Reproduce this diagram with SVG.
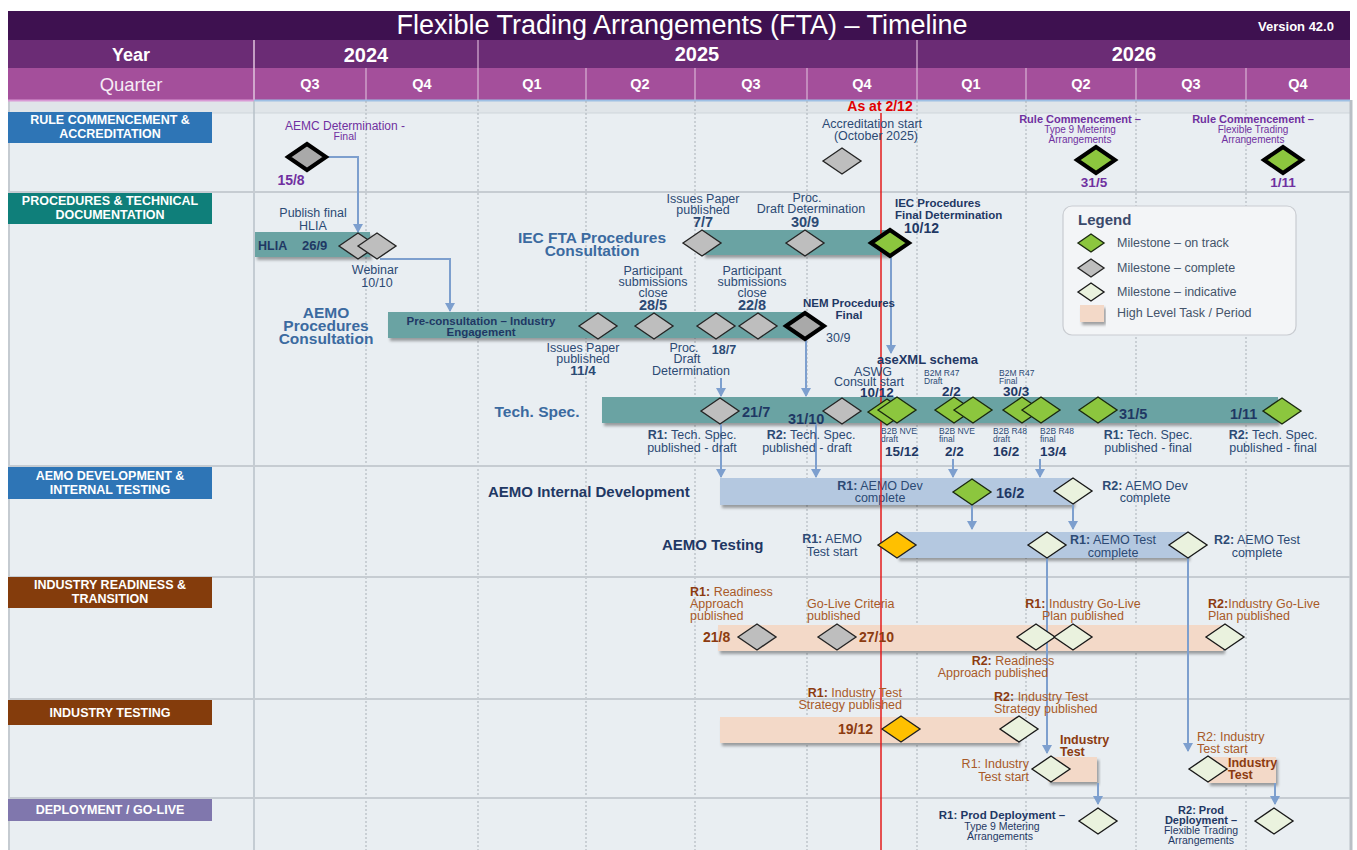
<svg xmlns="http://www.w3.org/2000/svg" width="1357" height="850" viewBox="0 0 1357 850">
<defs>
<style>
text{font-family:"Liberation Sans",Arial,sans-serif}
.hd{fill:#fff}
.lane{fill:#fff;font-weight:bold;font-size:12.5px;text-anchor:middle}
.l{fill:#2c4a74;font-size:12.5px}
.c{text-anchor:middle}
.e{text-anchor:end}
.b{font-weight:bold}
.d{fill:#1f3864;font-weight:bold;font-size:14.5px}
.big{fill:#3b6aa0;font-weight:bold;font-size:15.5px}
.pu{fill:#7030a0}
.br{fill:#a85a28;font-size:12.5px}
.brb{fill:#8c3b10;font-weight:bold}
.nv{fill:#1f3864}
.sm{font-size:8.5px}
.teal{fill:#6aa3a3}
.lb{fill:#b4c8e0}
.pe{fill:#f3d9c8}
.g{fill:#bebebe;stroke:#262626;stroke-width:1.4}
.gk{fill:#a9a9a9;stroke:#000;stroke-width:4}
.gr{fill:#8cc63e;stroke:#1b2a10;stroke-width:1.4}
.grk{fill:#8cc63e;stroke:#000;stroke-width:4}
.in{fill:#eaf2de;stroke:#1a1a1a;stroke-width:1.4}
.or{fill:#ffc000;stroke:#222;stroke-width:1.4}
.ar{fill:none;stroke:#7d9fce;stroke-width:2;marker-end:url(#ah)}
.vg{stroke:#a9b0b7;stroke-width:1;stroke-dasharray:2 2}
.hs{stroke:#c6ccd2;stroke-width:2}
.hv{stroke:#d9b4d6;stroke-width:1.2}
</style>
<path id="dm" d="M-19,0L0,-13L19,0L0,13Z"/>
<path id="ds" d="M-13,0L0,-9L13,0L0,9Z"/>
<marker id="ah" markerWidth="9" markerHeight="10" refX="8" refY="5" orient="auto" markerUnits="userSpaceOnUse"><path d="M0,0L9,5L0,10Z" fill="#7d9fce"/></marker>
<filter id="sh" x="-5%" y="-30%" width="112%" height="180%"><feDropShadow dx="2" dy="3" stdDeviation="1.5" flood-color="#000" flood-opacity="0.35"/></filter>
</defs>

<g id="background">
<rect x="0" y="0" width="1357" height="850" fill="#fff"/>
<rect x="8" y="100" width="1342" height="750" fill="#e9eef2"/>
<rect x="8" y="101" width="1342" height="12" fill="#e0e5e9"/>
<line x1="8" y1="113" x2="1350" y2="113" stroke="#cfd5da" stroke-width="1"/>
<line x1="1351" y1="100" x2="1351" y2="850" stroke="#b9bfc5" stroke-width="3"/>
<line x1="9" y1="100" x2="9" y2="850" stroke="#c5cbd1" stroke-width="2"/>
<rect x="8" y="11" width="1342" height="29" fill="#3e1150"/>
<rect x="8" y="40" width="1342" height="28" fill="#6b2c75"/>
<rect x="8" y="68" width="1342" height="32" fill="#a44f9b"/>
<line x1="254" y1="40" x2="254" y2="100" stroke="#e0c4de" stroke-width="1.5"/>
<line x1="478" y1="40" x2="478" y2="68" stroke="#d9b4d6" stroke-width="1.2"/>
<line x1="917" y1="40" x2="917" y2="68" stroke="#d9b4d6" stroke-width="1.2"/>
<line class="hv" x1="366" y1="68" x2="366" y2="100"/>
<line class="hv" x1="478" y1="68" x2="478" y2="100"/>
<line class="hv" x1="586" y1="68" x2="586" y2="100"/>
<line class="hv" x1="695" y1="68" x2="695" y2="100"/>
<line class="hv" x1="807" y1="68" x2="807" y2="100"/>
<line class="hv" x1="917" y1="68" x2="917" y2="100"/>
<line class="hv" x1="1026" y1="68" x2="1026" y2="100"/>
<line class="hv" x1="1136" y1="68" x2="1136" y2="100"/>
<line class="hv" x1="1246" y1="68" x2="1246" y2="100"/>
<line x1="8" y1="100.5" x2="254" y2="100.5" stroke="#d99ad5" stroke-width="2"/>
<line x1="254" y1="100.5" x2="1350" y2="100.5" stroke="#9ec0e4" stroke-width="2"/>
<text class="hd" x="682" y="34" text-anchor="middle" font-size="27">Flexible Trading Arrangements (FTA) – Timeline</text>
<text class="hd b" x="1296" y="31" text-anchor="middle" font-size="13">Version 42.0</text>
<text class="hd b" x="131" y="61" text-anchor="middle" font-size="18">Year</text>
<text class="hd b" x="366" y="62" text-anchor="middle" font-size="20">2024</text>
<text class="hd b" x="697" y="61" text-anchor="middle" font-size="20">2025</text>
<text class="hd b" x="1134" y="61" text-anchor="middle" font-size="20">2026</text>
<text x="131" y="91" text-anchor="middle" font-size="18.5" fill="#f6ebf5">Quarter</text>
<g class="hd b" font-size="14.5" text-anchor="middle">
<text x="310" y="89">Q3</text><text x="422" y="89">Q4</text><text x="532" y="89">Q1</text><text x="640" y="89">Q2</text><text x="751" y="89">Q3</text><text x="862" y="89">Q4</text><text x="971" y="89">Q1</text><text x="1081" y="89">Q2</text><text x="1191" y="89">Q3</text><text x="1298" y="89">Q4</text>
</g>
<line x1="254" y1="101" x2="254" y2="850" stroke="#b7c0c9" stroke-width="1.5"/>
<line class="vg" x1="366" y1="101" x2="366" y2="850"/>
<line class="vg" x1="478" y1="101" x2="478" y2="850"/>
<line class="vg" x1="586" y1="101" x2="586" y2="850"/>
<line class="vg" x1="695" y1="101" x2="695" y2="850"/>
<line class="vg" x1="807" y1="101" x2="807" y2="850"/>
<line class="vg" x1="917" y1="101" x2="917" y2="850"/>
<line class="vg" x1="1026" y1="101" x2="1026" y2="850"/>
<line class="vg" x1="1136" y1="101" x2="1136" y2="850"/>
<line class="vg" x1="1246" y1="101" x2="1246" y2="850"/>
<line class="hs" x1="8" y1="192" x2="1350" y2="192"/>
<line class="hs" x1="8" y1="466" x2="1350" y2="466"/>
<line class="hs" x1="8" y1="577" x2="1350" y2="577"/>
<line class="hs" x1="8" y1="699" x2="1350" y2="699"/>
<line class="hs" x1="8" y1="798" x2="1350" y2="798"/>
</g>

<g id="lanes">
<g id="lane-rule"><rect x="8" y="112" width="204" height="31" fill="#2e75b6"/><text class="lane" x="110" y="124">RULE COMMENCEMENT &amp;</text><text class="lane" x="110" y="138">ACCREDITATION</text></g>
<g id="lane-proc"><rect x="8" y="193" width="204" height="31" fill="#0f7f7a"/><text class="lane" x="110" y="205">PROCEDURES &amp; TECHNICAL</text><text class="lane" x="110" y="219">DOCUMENTATION</text></g>
<g id="lane-dev"><rect x="8" y="467" width="204" height="32" fill="#2e75b6"/><text class="lane" x="110" y="480">AEMO DEVELOPMENT &amp;</text><text class="lane" x="110" y="494">INTERNAL TESTING</text></g>
<g id="lane-ready"><rect x="8" y="577" width="204" height="31" fill="#843c0c"/><text class="lane" x="110" y="589">INDUSTRY READINESS &amp;</text><text class="lane" x="110" y="603">TRANSITION</text></g>
<g id="lane-test"><rect x="8" y="700" width="204" height="25" fill="#843c0c"/><text class="lane" x="110" y="717">INDUSTRY TESTING</text></g>
<g id="lane-deploy"><rect x="8" y="799" width="204" height="22" fill="#8077ad"/><text class="lane" x="110" y="814">DEPLOYMENT / GO-LIVE</text></g>
</g>

<g id="bars">
<g id="bar-hlia"><rect class="teal" x="255" y="232" width="115" height="25" filter="url(#sh)"/><text class="nv b" x="258" y="250" font-size="12.5">HLIA</text><text class="nv b" x="302" y="250" font-size="13">26/9</text></g>
<g id="bar-preconsult"><text class="big c" font-size="16"><tspan x="326" y="318">AEMO</tspan><tspan x="326" y="331">Procedures</tspan><tspan x="326" y="344">Consultation</tspan></text>
<rect class="teal" x="388" y="312" width="417" height="26" filter="url(#sh)"/><text class="nv b c" font-size="11.5"><tspan x="481" y="325">Pre-consultation – Industry</tspan><tspan x="481" y="336">Engagement</tspan></text></g>
<g id="bar-iec"><text class="big c" font-size="15"><tspan x="592" y="243">IEC FTA Procedures</tspan><tspan x="592" y="256">Consultation</tspan></text><rect class="teal" x="703" y="230" width="186" height="25" filter="url(#sh)"/></g>
<g id="bar-techspec"><text class="big c" x="537" y="417">Tech. Spec.</text><rect class="teal" x="602" y="397" width="676" height="26" filter="url(#sh)"/></g>
<g id="bar-dev"><text class="nv b" x="488" y="497" font-size="15">AEMO Internal Development</text><rect class="lb" x="720" y="478" width="353" height="27" filter="url(#sh)"/>
<text class="l c"><tspan x="880" y="490"><tspan class="b">R1:</tspan> AEMO Dev</tspan><tspan x="880" y="502">complete</tspan></text></g>
<g id="bar-aemotest"><text class="nv b" x="662" y="550" font-size="15">AEMO Testing</text><rect class="lb" x="897" y="532" width="291" height="26" filter="url(#sh)"/></g>
<g id="bar-readiness"><rect class="pe" x="718" y="625" width="505" height="26" filter="url(#sh)"/></g>
<g id="bar-indtest"><rect class="pe" x="720" y="717" width="298" height="26" filter="url(#sh)"/></g>
<g id="bar-indtest-r1"><rect class="pe" x="1048" y="757" width="49" height="25" filter="url(#sh)"/><text class="brb" font-size="12.5"><tspan x="1060" y="744">Industry</tspan><tspan x="1060" y="756">Test</tspan></text></g>
<g id="bar-indtest-r2"><rect class="pe" x="1208" y="757" width="68" height="26" filter="url(#sh)"/><text class="brb" font-size="12.5"><tspan x="1228" y="767">Industry</tspan><tspan x="1228" y="779">Test</tspan></text></g>
</g>

<g id="as-at">
<line x1="881" y1="113" x2="881" y2="850" stroke="#e31b1b" stroke-width="1.5"/>
<text x="880" y="111" text-anchor="middle" font-size="14" font-weight="bold" fill="#e00000">As at 2/12</text>
</g>

<g id="connectors">
<path class="ar" d="M328,157H358V232"/>
<path class="ar" d="M380,259H450V311"/>
<path class="ar" d="M891,257V353"/>
<path class="ar" d="M806,340V396"/>
<path class="ar" d="M721,378V396"/>
<path class="ar" d="M721,424V477"/>
<path class="ar" d="M816,424V477"/>
<path class="ar" d="M953,459V477"/>
<path class="ar" d="M1040,459V477"/>
<path class="ar" d="M972,505V529"/>
<path class="ar" d="M1073,505V529"/>
<path class="ar" d="M1047,558V753"/>
<path class="ar" d="M1188,558V751"/>
<path class="ar" d="M1098,783V804"/>
<path class="ar" d="M1275,783V804"/>
</g>

<g id="milestones">
<g id="m-aemc"><text class="pu c"><tspan x="345" y="130" font-size="12">AEMC Determination -</tspan><tspan x="345" y="140" font-size="10.5">Final</tspan></text><use href="#dm" class="gk" x="307" y="157"/><text class="pu b c" x="291" y="185" font-size="14">15/8</text></g>
<g id="m-accr"><text class="l c" font-size="12"><tspan x="872" y="128">Accreditation start</tspan><tspan x="876" y="140">(October 2025)</tspan></text><use href="#dm" class="g" x="842" y="161"/></g>
<g id="m-rc1"><text class="pu c" font-size="10"><tspan x="1080" y="123" class="b" font-size="11">Rule Commencement –</tspan><tspan x="1080" y="133">Type 9 Metering</tspan><tspan x="1080" y="143">Arrangements</tspan></text><use href="#dm" class="grk" x="1096" y="160"/><text class="pu b c" x="1094" y="187" font-size="13.5">31/5</text></g>
<g id="m-rc2"><text class="pu c" font-size="10"><tspan x="1253" y="123" class="b" font-size="11">Rule Commencement –</tspan><tspan x="1253" y="133">Flexible Trading</tspan><tspan x="1253" y="143">Arrangements</tspan></text><use href="#dm" class="grk" x="1283" y="160"/><text class="pu b c" x="1283" y="187" font-size="13.5">1/11</text></g>

<g id="m-hlia"><text class="l c" font-size="12.5"><tspan x="313" y="217">Publish final</tspan><tspan x="313" y="230">HLIA</tspan></text><use href="#dm" class="g" x="358" y="246"/></g>
<g id="m-webinar"><use href="#dm" class="g" x="377" y="246"/><text class="l c" font-size="12.5"><tspan x="375" y="274">Webinar</tspan><tspan x="377" y="287">10/10</tspan></text></g>

<g id="m-ip-1104"><use href="#dm" class="g" x="598" y="326"/><text class="l c" font-size="11.5"><tspan x="583" y="352">Issues Paper</tspan><tspan x="583" y="363">published</tspan><tspan x="583" y="375" class="b" font-size="13.5">11/4</tspan></text></g>
<g id="m-psc-2805"><text class="l c" font-size="11.5"><tspan x="653" y="275">Participant</tspan><tspan x="653" y="286">submissions</tspan><tspan x="653" y="297">close</tspan><tspan x="653" y="310" class="b" font-size="14.5">28/5</tspan></text><use href="#dm" class="g" x="654" y="326"/></g>
<g id="m-pdd-1807"><use href="#dm" class="g" x="716" y="326"/><text class="l c" font-size="11.5"><tspan x="684" y="352">Proc.</tspan><tspan x="687" y="363">Draft</tspan><tspan x="691" y="375">Determination</tspan></text><text class="l b c" x="724" y="354" font-size="13.5">18/7</text></g>
<g id="m-psc-2208"><text class="l c" font-size="11.5"><tspan x="752" y="275">Participant</tspan><tspan x="752" y="286">submissions</tspan><tspan x="752" y="297">close</tspan><tspan x="752" y="310" class="b" font-size="14.5">22/8</tspan></text><use href="#dm" class="g" x="758" y="326"/></g>
<g id="m-nem"><text class="nv b c" font-size="11.5"><tspan x="849" y="307">NEM Procedures</tspan><tspan x="849" y="319">Final</tspan></text><use href="#dm" class="gk" x="805" y="326"/><text class="l" x="826" y="342" font-size="13.5">30/9</text></g>

<g id="m-ip-0707"><text class="l c" font-size="11.5"><tspan x="703" y="203">Issues Paper</tspan><tspan x="703" y="214">published</tspan><tspan x="703" y="227" class="b" font-size="14.5">7/7</tspan></text><use href="#dm" class="g" x="702" y="243"/></g>
<g id="m-pdd-3009"><text class="l c" font-size="11.5"><tspan x="807" y="202">Proc.</tspan><tspan x="811" y="213">Draft Determination</tspan><tspan x="805" y="227" class="b" font-size="14.5">30/9</tspan></text><use href="#dm" class="g" x="805" y="243"/></g>
<g id="m-iec-final"><text class="nv b" font-size="11.5"><tspan x="895" y="207">IEC Procedures</tspan><tspan x="895" y="219">Final Determination</tspan></text><text class="nv b" x="904" y="233" font-size="14">10/12</text><use href="#dm" class="grk" x="890" y="243"/></g>

<g id="m-ts-2107"><use href="#dm" class="g" x="720" y="411"/><text class="d" x="742" y="417">21/7</text><text class="l c" font-size="12.5"><tspan x="692" y="439"><tspan class="b">R1:</tspan> Tech. Spec.</tspan><tspan x="692" y="452">published - draft</tspan></text></g>
<g id="m-ts-3110"><use href="#dm" class="g" x="842" y="411"/><text class="d" x="788" y="424">31/10</text><text class="l c" font-size="12.5"><tspan x="811" y="439"><tspan class="b">R2:</tspan> Tech. Spec.</tspan><tspan x="807" y="452">published - draft</tspan></text></g>
<g id="m-asexml"><text class="nv b" x="877" y="364" font-size="13">aseXML schema</text><text class="l c" font-size="11"><tspan x="873" y="376">ASWG</tspan><tspan x="869" y="386">Consult start</tspan></text><text class="nv b c" x="877" y="397" font-size="13.5">10/12</text>
<use href="#dm" class="gr" x="887" y="412"/><use href="#dm" class="gr" x="897" y="410"/>
<text class="l sm"><tspan x="881" y="434">B2B NVE</tspan><tspan x="881" y="442">draft</tspan></text><text class="nv b" x="885" y="456" font-size="13.5">15/12</text></g>
<g id="m-b2m-draft"><text class="l sm"><tspan x="924" y="376">B2M R47</tspan><tspan x="924" y="384">Draft</tspan></text><text class="nv b" x="942" y="396" font-size="13.5">2/2</text>
<use href="#dm" class="gr" x="954" y="410"/><use href="#dm" class="gr" x="973" y="410"/>
<text class="l sm"><tspan x="939" y="434">B2B NVE</tspan><tspan x="939" y="442">final</tspan></text><text class="nv b" x="945" y="456" font-size="13.5">2/2</text></g>
<g id="m-b2m-final"><text class="l sm"><tspan x="999" y="376">B2M R47</tspan><tspan x="999" y="384">Final</tspan></text><text class="nv b" x="1003" y="396" font-size="13.5">30/3</text>
<use href="#dm" class="gr" x="1022" y="410"/><use href="#dm" class="gr" x="1041" y="410"/>
<text class="l sm"><tspan x="993" y="434">B2B R48</tspan><tspan x="993" y="442">draft</tspan></text><text class="nv b" x="993" y="456" font-size="13.5">16/2</text>
<text class="l sm"><tspan x="1040" y="434">B2B R48</tspan><tspan x="1040" y="442">final</tspan></text><text class="nv b" x="1040" y="456" font-size="13.5">13/4</text></g>
<g id="m-ts-3105"><use href="#dm" class="gr" x="1098" y="410"/><text class="d" x="1119" y="419">31/5</text><text class="l c" font-size="12.5"><tspan x="1148" y="439"><tspan class="b">R1:</tspan> Tech. Spec.</tspan><tspan x="1148" y="452">published - final</tspan></text></g>
<g id="m-ts-0111"><text class="d" x="1230" y="419">1/11</text><use href="#dm" class="gr" x="1282" y="411"/><text class="l c" font-size="12.5"><tspan x="1273" y="439"><tspan class="b">R2:</tspan> Tech. Spec.</tspan><tspan x="1273" y="452">published - final</tspan></text></g>

<g id="m-dev-r1"><use href="#dm" class="gr" x="972" y="492"/><text class="d" x="996" y="498">16/2</text></g>
<g id="m-dev-r2"><use href="#dm" class="in" x="1073" y="491"/><text class="l c"><tspan x="1145" y="490"><tspan class="b">R2:</tspan> AEMO Dev</tspan><tspan x="1145" y="502">complete</tspan></text></g>
<g id="m-test-start"><text class="l c"><tspan x="832" y="543"><tspan class="b">R1:</tspan> AEMO</tspan><tspan x="832" y="556">Test start</tspan></text><use href="#dm" class="or" x="897" y="545"/></g>
<g id="m-test-r1"><use href="#dm" class="in" x="1047" y="545"/><text class="l c"><tspan x="1113" y="544"><tspan class="b">R1:</tspan> AEMO Test</tspan><tspan x="1113" y="557">complete</tspan></text></g>
<g id="m-test-r2"><use href="#dm" class="in" x="1188" y="545"/><text class="l c"><tspan x="1257" y="544"><tspan class="b">R2:</tspan> AEMO Test</tspan><tspan x="1257" y="557">complete</tspan></text></g>

<g id="m-ready-r1"><text class="br"><tspan x="690" y="596"><tspan class="brb">R1:</tspan> Readiness</tspan><tspan x="690" y="608">Approach</tspan><tspan x="690" y="620">published</tspan></text><text class="brb" x="703" y="642" font-size="14">21/8</text><use href="#dm" class="g" x="757" y="637"/></g>
<g id="m-golive-crit"><text class="br"><tspan x="807" y="608">Go-Live Criteria</tspan><tspan x="807" y="620">published</tspan></text><use href="#dm" class="g" x="837" y="637"/><text class="brb" x="859" y="642" font-size="14">27/10</text></g>
<g id="m-golive-r1"><text class="br c"><tspan x="1083" y="608"><tspan class="brb">R1:</tspan> Industry Go-Live</tspan><tspan x="1083" y="620">Plan published</tspan></text><use href="#dm" class="in" x="1036" y="637"/></g>
<g id="m-ready-r2"><use href="#dm" class="in" x="1073" y="637"/><text class="br c"><tspan x="1013" y="665"><tspan class="brb">R2:</tspan> Readiness</tspan><tspan x="993" y="677">Approach published</tspan></text></g>
<g id="m-golive-r2"><text class="br"><tspan x="1208" y="608"><tspan class="brb">R2:</tspan>Industry Go-Live</tspan><tspan x="1208" y="620">Plan published</tspan></text><use href="#dm" class="in" x="1225" y="637"/></g>

<g id="m-its-r1"><text class="br e"><tspan x="902" y="697"><tspan class="brb">R1:</tspan> Industry Test</tspan><tspan x="902" y="709">Strategy published</tspan></text><text class="brb" x="838" y="734" font-size="14">19/12</text><use href="#dm" class="or" x="901" y="729"/></g>
<g id="m-its-r2"><text class="br"><tspan x="994" y="701"><tspan class="brb">R2:</tspan> Industry Test</tspan><tspan x="994" y="713">Strategy published</tspan></text><use href="#dm" class="in" x="1019" y="729"/></g>
<g id="m-it-start-r1"><text class="br e"><tspan x="1029" y="768">R1: Industry</tspan><tspan x="1029" y="781">Test start</tspan></text><use href="#dm" class="in" x="1051" y="769"/></g>
<g id="m-it-start-r2"><text class="br"><tspan x="1197" y="741">R2: Industry</tspan><tspan x="1197" y="753">Test start</tspan></text><use href="#dm" class="in" x="1208" y="769"/></g>

<g id="m-prod-r1"><text class="nv c" font-size="10.5"><tspan x="1002" y="819" class="b" font-size="11.5">R1: Prod Deployment –</tspan><tspan x="1002" y="830">Type 9 Metering</tspan><tspan x="1000" y="840">Arrangements</tspan></text><use href="#dm" class="in" x="1098" y="821"/></g>
<g id="m-prod-r2"><text class="nv c" font-size="10.5"><tspan x="1201" y="814" class="b" font-size="11">R2: Prod</tspan><tspan x="1201" y="824" class="b" font-size="11">Deployment –</tspan><tspan x="1201" y="834">Flexible Trading</tspan><tspan x="1201" y="844">Arrangements</tspan></text><use href="#dm" class="in" x="1274" y="821"/></g>
</g>

<g id="legend">
<rect x="1063" y="206" width="233" height="129" rx="9" fill="#f3f5f7" stroke="#c9ccd1" stroke-width="1.2"/>
<text x="1078" y="225" font-size="15" font-weight="bold" fill="#3a4a6b">Legend</text>
<use href="#ds" class="gr" x="1091" y="243" stroke-width="2.5"/>
<use href="#ds" class="g" x="1091" y="268" stroke-width="2.5"/>
<use href="#ds" class="in" x="1091" y="292" stroke-width="2.5"/>
<rect x="1080" y="305" width="24" height="17" class="pe" filter="url(#sh)"/>
<g font-size="12.5" fill="#44546a">
<text x="1117" y="247">Milestone – on track</text>
<text x="1117" y="272">Milestone – complete</text>
<text x="1117" y="296">Milestone – indicative</text>
<text x="1117" y="317">High Level Task / Period</text>
</g>
</g>
</svg>
